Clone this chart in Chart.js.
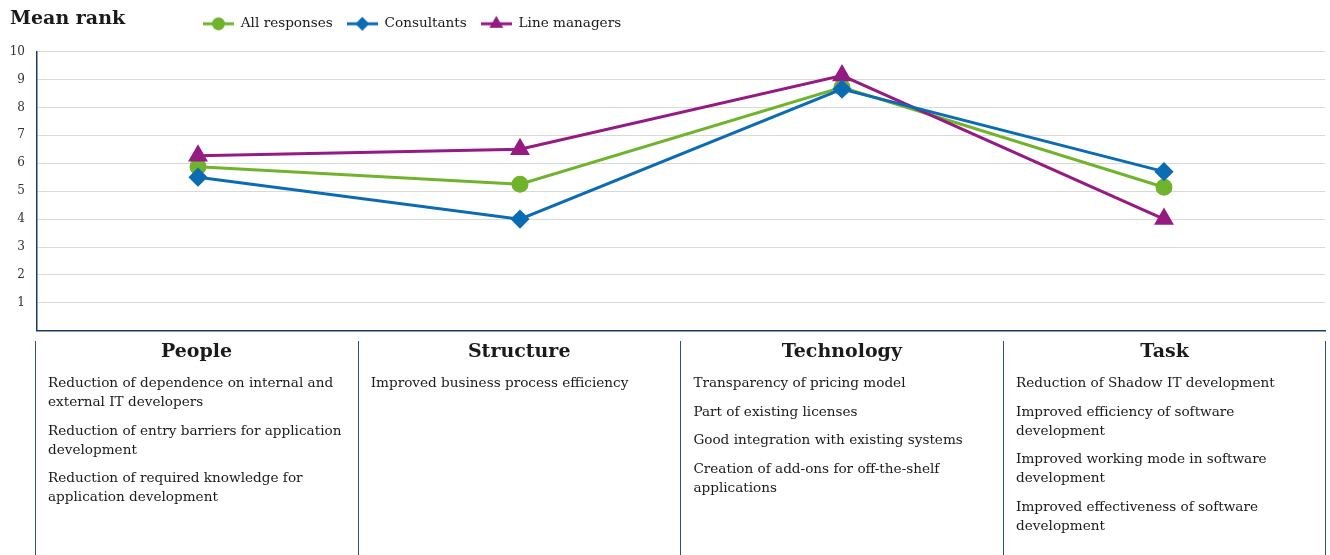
<!DOCTYPE html>
<html>
<head>
<meta charset="utf-8">
<script src="https://cdn.jsdelivr.net/npm/chart.js@4.4.1/dist/chart.umd.min.js"></script>
<style>
  html, body { margin: 0; padding: 0; background: #fff; }
  body { width: 1330px; height: 555px; position: relative; overflow: hidden; font-family: "DejaVu Serif", serif; color: #1a1a1a; }
  #wrap { position: absolute; left: 0; top: 0; width: 1330px; height: 350px; }
  #title { position: absolute; left: 10px; top: 5px; font-size: 19px; font-weight: bold; line-height: 24px; }
  .col { position: absolute; top: 341px; height: 214px; width: 322px; border-left: 1.5px solid #2d5080; box-sizing: border-box; }
  .col.last { width: 323px; border-right: 1.5px solid #2d5080; }
  .col h3 { margin: -3px 0 0 0; font-size: 19px; line-height: 24px; text-align: center; font-weight: bold; }
  .col ul { list-style: none; margin: 11px 0 0 0; padding: 0 4px 0 12px; }
  .col li { font-size: 13.6px; line-height: 19px; margin-bottom: 9.5px; }
</style>
</head>
<body>
<div id="wrap"><canvas id="rankChart"></canvas></div>
<div id="title">Mean rank</div>
<div id="panels"></div>
<script>
var categories = ['People', 'Structure', 'Technology', 'Task'];
var allResponses = [5.88, 5.25, 8.72, 5.14];
var consultants = [5.5, 4.0, 8.66, 5.7];
var lineManagers = [6.27, 6.5, 9.14, 4.0];
var yTicks = [1, 2, 3, 4, 5, 6, 7, 8, 9, 10];

var peopleItems = ['Reduction of dependence on internal and external IT developers',
    'Reduction of entry barriers for application development',
    'Reduction of required knowledge for application development'];
var structureItems = ['Improved business process efficiency'];
var technologyItems = ['Transparency of pricing model', 'Part of existing licenses',
    'Good integration with existing systems', 'Creation of add-ons for off-the-shelf applications'];
var taskItems = ['Reduction of Shadow IT development', 'Improved efficiency of software development',
    'Improved working mode in software development', 'Improved effectiveness of software development'];

var green = '#70b32c';
var blue = '#0c6cb3';
var purple = '#951a81';
var navy = '#1f3864';

// text panels under the chart
var panels = document.getElementById('panels');
[peopleItems, structureItems, technologyItems, taskItems].forEach(function(items, i) {
    var col = document.createElement('div');
    col.className = 'col' + (i === 3 ? ' last' : '');
    col.style.left = (35 + i * 322.7) + 'px';
    var h = document.createElement('h3');
    h.textContent = categories[i];
    col.appendChild(h);
    var ul = document.createElement('ul');
    items.forEach(function(t) {
        var li = document.createElement('li');
        li.textContent = t;
        ul.appendChild(li);
    });
    col.appendChild(ul);
    panels.appendChild(col);
});

// legend icon: short line with the marker on it
function legendIcon(color, style, radius) {
    var c = document.createElement('canvas');
    c.width = 31; c.height = 18;
    var g = c.getContext('2d');
    g.strokeStyle = color; g.fillStyle = color; g.lineWidth = 3;
    g.beginPath(); g.moveTo(0, 9); g.lineTo(31, 9); g.stroke();
    g.beginPath();
    if (style === 'circle') {
        g.arc(15.5, 9, radius, 0, Math.PI * 2);
    } else if (style === 'rectRot') {
        g.moveTo(15.5, 9 - radius); g.lineTo(15.5 + radius, 9); g.lineTo(15.5, 9 + radius); g.lineTo(15.5 - radius, 9);
    } else {
        g.moveTo(15.5, 9 - radius); g.lineTo(15.5 + radius * 0.87, 9 + radius * 0.5); g.lineTo(15.5 - radius * 0.87, 9 + radius * 0.5);
    }
    g.closePath(); g.fill();
    return c;
}

// legend sits on the same row as the "Mean rank" heading
var shiftLegend = {
    id: 'shiftLegend',
    afterLayout: function(chart) {
        chart.legend.left += 189;
        chart.legend.right += 189;
        chart.legend.top -= 11;
        chart.legend.bottom -= 11;
    }
};

var ctx = document.getElementById('rankChart').getContext('2d');
var chart = new Chart(ctx, {
    type: 'line',
    data: {
        labels: categories,
        datasets: [{
            label: 'All responses',
            data: allResponses,
            borderColor: green,
            backgroundColor: green,
            borderWidth: 3,
            pointStyle: 'circle',
            pointRadius: 7,
            order: 3
        }, {
            label: 'Consultants',
            data: consultants,
            borderColor: blue,
            backgroundColor: blue,
            borderWidth: 3,
            pointStyle: 'rectRot',
            pointRadius: 7.5,
            order: 1
        }, {
            label: 'Line managers',
            data: lineManagers,
            borderColor: purple,
            backgroundColor: purple,
            borderWidth: 3,
            pointStyle: 'triangle',
            pointRadius: 8.5,
            order: 2
        }]
    },
    options: {
        responsive: true,
        maintainAspectRatio: false,
        animation: false,
        layout: { autoPadding: false, padding: { top: 14, right: 5, bottom: 9, left: 0 } },
        plugins: {
            tooltip: { enabled: false },
            legend: {
                position: 'top',
                align: 'start',
                labels: {
                    usePointStyle: true,
                    pointStyleWidth: 31,
                    padding: 14,
                    color: '#1a1a1a',
                    font: { family: 'DejaVu Serif', size: 13.6 },
                    generateLabels: function(chart) {
                        var icons = [['circle', 6.5], ['rectRot', 7], ['triangle', 8]];
                        return chart.data.datasets.map(function(ds, i) {
                            return {
                                text: ds.label,
                                pointStyle: legendIcon(ds.borderColor, icons[i][0], icons[i][1]),
                                fillStyle: ds.borderColor,
                                strokeStyle: ds.borderColor,
                                lineWidth: 0,
                                fontColor: '#1a1a1a',
                                hidden: !chart.isDatasetVisible(i),
                                datasetIndex: i
                            };
                        });
                    }
                }
            }
        },
        scales: {
            x: {
                offset: true,
                grid: { display: false, drawTicks: false },
                border: { color: navy, width: 1.5 },
                ticks: { display: false },
                afterFit: function(s) { s.height = 0; }
            },
            y: {
                min: 0,
                max: 10,
                afterBuildTicks: function(s) {
                    s.ticks = yTicks.map(function(v) { return { value: v }; });
                },
                afterFit: function(s) { s.width = 37; },
                grid: { color: '#d9d9d9', lineWidth: 1, drawTicks: false },
                border: { color: navy, width: 1.5 },
                ticks: {
                    padding: 12,
                    color: '#333',
                    font: { family: 'DejaVu Serif', size: 12 }
                }
            }
        }
    },
    plugins: [shiftLegend]
});
</script>
</body>
</html>
